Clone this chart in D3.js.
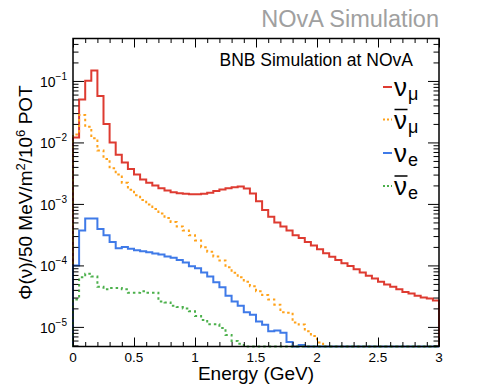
<!DOCTYPE html>
<html>
<head>
<meta charset="utf-8">
<script src="https://cdn.jsdelivr.net/npm/d3@7"></script>
<style>
  body { margin: 0; background: #fff; }
  svg text { font-family: "Liberation Sans", Arial, Helvetica, sans-serif; }
</style>
</head>
<body>
<svg id="svg1" width="488" height="387"></svg>
<script>
// bins of 0.05 GeV from 0 to 3 GeV
var binWidth = 0.05;

var numu = [0.012, 0.050, 0.101, 0.148, 0.057, 0.020, 0.0100, 0.0063, 0.0047, 0.0037,
    0.0030, 0.0025, 0.0022, 0.0020, 0.0018, 0.00165, 0.00155, 0.00149, 0.00146, 0.00144,
    0.00144, 0.00146, 0.00152, 0.00162, 0.00172, 0.00180, 0.00187, 0.00192, 0.00178, 0.00148,
    0.00111, 0.00080, 0.00062, 0.00050, 0.00043, 0.00037, 0.00031, 0.00028, 0.00024, 0.00021,
    0.000183, 0.000157, 0.000138, 0.000122, 0.000108, 0.000098, 0.000087, 0.000077, 0.000068, 0.000061,
    0.000054, 0.000049, 0.000045, 0.000041, 0.000037, 0.000035, 0.000032, 0.000030, 0.000029, 0.000027];

var numubar = [0.0135, 0.028, 0.018, 0.0117, 0.0074, 0.0054, 0.0038, 0.0030, 0.0022, 0.0017,
    0.00138, 0.00116, 0.00098, 0.00083, 0.00070, 0.00059, 0.00051, 0.00043, 0.00037, 0.00031,
    0.000255, 0.000198, 0.000167, 0.000139, 0.00012, 0.000093, 0.000076, 0.000064, 0.000054, 0.000046,
    0.000038, 0.000033, 0.000028, 0.000023, 0.0000173, 0.000017, 0.0000118, 0.0000109, 0.0000085, 0.0000071,
    0.0000056, 0, 0, 0, 0, 0, 0, 0, 0, 0,
    0, 0, 0, 0, 0, 0, 0, 0, 0, 0];

var nue = [0.000100, 0.00037, 0.00058, 0.00058, 0.00039, 0.00031, 0.00024, 0.00019, 0.00020, 0.000186,
    0.000177, 0.00017, 0.000163, 0.000156, 0.00015, 0.00014, 0.000133, 0.000122, 0.000111, 0.000097,
    0.000090, 0.000077, 0.000066, 0.000053, 0.000044, 0.000032, 0.000026, 0.000022, 0.0000173, 0.0000158,
    0.0000122, 0.0000108, 0.0000085, 0.0000087, 0.0000080, 0.0000057, 0, 0.0000051, 0, 0,
    0, 0, 0, 0, 0, 0, 0, 0, 0, 0,
    0, 0, 0, 0, 0, 0, 0, 0, 0, 0];

var nuebar = [0.000028, 0.000064, 0.000073, 0.000066, 0.000045, 0.000041, 0.000043, 0.000043, 0.000041, 0.000036,
    0.000036, 0.000038, 0.000036, 0.000036, 0.000026, 0.000025, 0.000022, 0.000021, 0.000020, 0.000018,
    0.000015, 0.000013, 0.000011, 0.000011, 0.0000096, 0.0000074, 0.0000059, 0.0000053, 0, 0,
    0, 0, 0, 0, 0, 0, 0, 0, 0, 0,
    0, 0, 0, 0, 0, 0, 0, 0, 0, 0,
    0, 0, 0, 0, 0, 0, 0, 0, 0, 0];

var xTicks = [0, 0.5, 1, 1.5, 2, 2.5, 3];
var xTickLabels = ["0", "0.5", "1", "1.5", "2", "2.5", "3"];
var yDecades = [-1, -2, -3, -4, -5];

var series = [
    { name: "numu", values: numu, color: "#de3b31", dash: null, sub: "\u03bc", bar: false },
    { name: "numubar", values: numubar, color: "#ffa21a", dash: "2.5,3", sub: "\u03bc", bar: true },
    { name: "nue", values: nue, color: "#3f7ae8", dash: null, sub: "e", bar: false },
    { name: "nuebar", values: nuebar, color: "#4bb04b", dash: "2.5,3", sub: "e", bar: true }
];

var svg = d3.select("#svg1"),
    frame = { left: 73, right: 439, top: 38.5, bottom: 346.5 },
    ymin = 4.8e-6, ymax = 0.49;

var x = d3.scaleLinear().domain([0, 3]).range([frame.left, frame.right]);
var y = d3.scaleLog().domain([ymin, ymax]).range([frame.bottom, frame.top]);

// histograms
var line = d3.line()
    .x(function (d) { return x(d[0]); })
    .y(function (d) { return y(Math.max(d[1], ymin)); })
    .curve(d3.curveStepAfter);

series.forEach(function (s) {
    var pts = [[0, ymin]];
    s.values.forEach(function (v, i) { pts.push([i * binWidth, v]); });
    pts.push([s.values.length * binWidth, s.values[s.values.length - 1]]);
    pts.push([s.values.length * binWidth, ymin]);
    svg.append("path")
        .attr("d", line(pts))
        .attr("fill", "none")
        .attr("stroke", s.color)
        .attr("stroke-width", 2)
        .attr("stroke-dasharray", s.dash);
});

// frame
svg.append("rect")
    .attr("x", frame.left).attr("y", frame.top)
    .attr("width", frame.right - frame.left).attr("height", frame.bottom - frame.top)
    .attr("fill", "none").attr("stroke", "#000").attr("stroke-width", 1.5);

// x ticks (inward, bottom and top)
var xMinor = d3.range(0, 31).map(function (i) { return i / 10; })
    .filter(function (v) { return Math.abs(v * 2 - Math.round(v * 2)) > 1e-6; });

function xTicksOn(axisFn, yPos) {
    svg.append("g").attr("transform", "translate(0," + yPos + ")")
        .call(axisFn(x).tickValues(xTicks).tickSize(-9).tickFormat(""))
        .call(function (g) { g.select(".domain").remove(); });
    svg.append("g").attr("transform", "translate(0," + yPos + ")")
        .call(axisFn(x).tickValues(xMinor).tickSize(-4.5).tickFormat(""))
        .call(function (g) { g.select(".domain").remove(); });
}
xTicksOn(d3.axisBottom, frame.bottom);
xTicksOn(d3.axisTop, frame.top);

// y ticks (inward, left and right)
var yMajor = yDecades.map(function (e) { return Math.pow(10, e); });
var yMinor = [];
[-6, -5, -4, -3, -2, -1].forEach(function (e) {
    for (var m = 2; m <= 9; m++) {
        var v = m * Math.pow(10, e);
        if (v >= ymin && v <= ymax) yMinor.push(v);
    }
});
function yTicksOn(axisFn, xPos) {
    svg.append("g").attr("transform", "translate(" + xPos + ",0)")
        .call(axisFn(y).tickValues(yMajor).tickSize(-11).tickFormat(""))
        .call(function (g) { g.select(".domain").remove(); });
    svg.append("g").attr("transform", "translate(" + xPos + ",0)")
        .call(axisFn(y).tickValues(yMinor).tickSize(-5.5).tickFormat(""))
        .call(function (g) { g.select(".domain").remove(); });
}
yTicksOn(d3.axisLeft, frame.left);
yTicksOn(d3.axisRight, frame.right);
svg.selectAll(".tick line").attr("stroke", "#000").attr("stroke-width", 1);

// x tick labels
svg.selectAll(".xlab")
    .data(xTicks)
    .enter().append("text")
    .attr("class", "xlab")
    .attr("x", function (d) { return x(d); })
    .attr("y", 362)
    .attr("text-anchor", "middle")
    .style("font-size", "13.5px")
    .text(function (d, i) { return xTickLabels[i]; });

// y tick labels 10^n
yDecades.forEach(function (e) {
    var t = svg.append("text")
        .attr("x", 67)
        .attr("y", y(Math.pow(10, e)) + 6)
        .attr("text-anchor", "end")
        .style("font-size", "14px");
    t.append("tspan").text("10");
    t.append("tspan").attr("dy", -7).style("font-size", "10px").text("\u2212" + Math.abs(e));
});

// axis titles
svg.append("text")
    .attr("x", (frame.left + frame.right) / 2)
    .attr("y", 380)
    .attr("text-anchor", "middle")
    .style("font-size", "19px")
    .text("Energy (GeV)");

var yt = svg.append("text")
    .attr("transform", "translate(32," + ((frame.top + frame.bottom) / 2) + ") rotate(-90)")
    .attr("text-anchor", "middle")
    .style("font-size", "19px");
yt.append("tspan").text("\u03a6(\u03bd)/50 MeV/m");
yt.append("tspan").attr("dy", -7).style("font-size", "13px").text("2");
yt.append("tspan").attr("dy", 7).text("/10");
yt.append("tspan").attr("dy", -7).style("font-size", "13px").text("6");
yt.append("tspan").attr("dy", 7).text(" POT");

// header texts
svg.append("text")
    .attr("x", frame.right)
    .attr("y", 27.3)
    .attr("text-anchor", "end")
    .attr("fill", "#a0a0a0")
    .style("font-size", "23.5px")
    .text("NOvA Simulation");

svg.append("text")
    .attr("x", 413)
    .attr("y", 66)
    .attr("text-anchor", "end")
    .style("font-size", "17.5px")
    .text("BNB Simulation at NOvA");

// legend
var legendBase = [96, 128.5, 162, 195];
series.forEach(function (s, i) {
    var b = legendBase[i];
    svg.append("line")
        .attr("x1", 383).attr("x2", 392)
        .attr("y1", b - 9).attr("y2", b - 9)
        .attr("stroke", s.color).attr("stroke-width", 2)
        .attr("stroke-dasharray", s.dash ? "2,2" : null);
    var t = svg.append("text").attr("x", 394).attr("y", b).style("font-size", "26px");
    t.append("tspan").text("\u03bd");
    t.append("tspan").attr("dy", 4).attr("dx", 1).style("font-size", "18px").text(s.sub);
    if (s.bar) {
        svg.append("line")
            .attr("x1", 394.5).attr("x2", 407.5)
            .attr("y1", b - 19).attr("y2", b - 19)
            .attr("stroke", "#000").attr("stroke-width", 1.5);
    }
});
</script>
</body>
</html>
